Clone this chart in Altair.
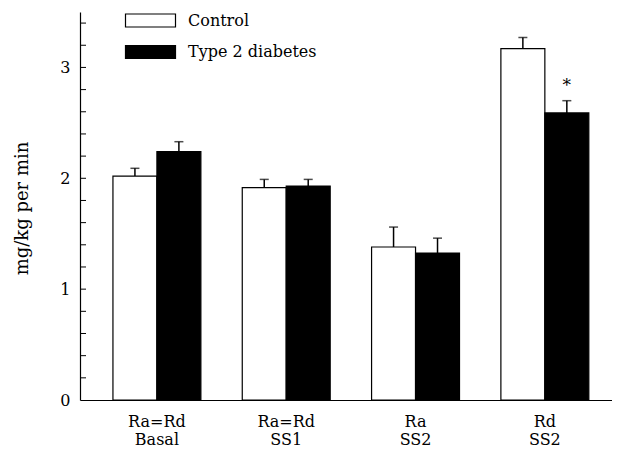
import altair as alt
import pandas as pd

groups = ["Ra=Rd\nBasal", "Ra=Rd\nSS1", "Ra\nSS2", "Rd\nSS2"]
series = ["Control", "Type 2 diabetes"]
control_mean = [2.02, 1.915, 1.38, 3.17]
control_sem = [0.07, 0.075, 0.18, 0.10]
diabetes_mean = [2.24, 1.93, 1.325, 2.59]
diabetes_sem = [0.09, 0.06, 0.135, 0.11]
minor_ticks = [0.2, 0.4, 0.6, 0.8, 1.0, 1.2, 1.4, 1.6, 1.8, 2.0, 2.2, 2.4, 2.6,
               2.8, 3.0, 3.2, 3.4]
star_group = "Rd\nSS2"
star_series = "Type 2 diabetes"

rows = []
for i, g in enumerate(groups):
    rows.append({"group": g, "series": series[0], "value": control_mean[i],
                 "top": control_mean[i] + control_sem[i]})
    rows.append({"group": g, "series": series[1], "value": diabetes_mean[i],
                 "top": diabetes_mean[i] + diabetes_sem[i]})
df = pd.DataFrame(rows)
star_df = df[(df.group == star_group) & (df.series == star_series)].assign(label="*")
ticks_df = pd.DataFrame({"t": minor_ticks})

FONT = "DejaVu Serif"

xscale = alt.Scale(domain=groups, paddingInner=0.32, paddingOuter=0.217, align=0.587)
yscale = alt.Scale(domain=[0, 3.5], nice=False)
offscale = alt.Scale(domain=series, paddingInner=0, paddingOuter=0)

x = alt.X("group:N", scale=xscale, sort=groups,
          axis=alt.Axis(title=None, labelAngle=0, ticks=False,
                        labelExpr="split(datum.label, '\\n')",
                        labelLineHeight=18, labelPadding=13,
                        labelFont=FONT, labelFontSize=16, labelColor="black",
                        domainColor="black", domainWidth=1.2))
xo = alt.XOffset("series:N", scale=offscale, sort=series)

bars = alt.Chart(df).mark_bar(stroke="black", strokeWidth=1.2).encode(
    x=x, xOffset=xo,
    y=alt.Y("value:Q", scale=yscale,
            axis=alt.Axis(title="mg/kg per min", values=[0, 1, 2, 3], format="d",
                          grid=False,
                          ticks=False, labelPadding=10, labelFont=FONT,
                          labelFontSize=16, labelColor="black",
                          domainColor="black", domainWidth=1.2,
                          titleFont=FONT, titleFontSize=18, titleFontWeight="normal",
                          titleColor="black", titleX=-58, titleY=196,
                          titleAngle=270, titleAlign="center", titleBaseline="middle")),
    fill=alt.Fill("series:N", scale=alt.Scale(domain=series, range=["white", "black"]),
                  legend=alt.Legend(title=None, orient="none", legendX=57, legendY=-5,
                                    symbolType="M-2,-0.52L2,-0.52L2,0.52L-2,0.52Z",
                                    symbolSize=625, symbolStrokeColor="black",
                                    symbolStrokeWidth=1.2, labelOffset=24,
                                    rowPadding=8.5, labelFont=FONT, labelFontSize=16,
                                    labelColor="black")),
)

err = alt.Chart(df).mark_rule(color="black", strokeWidth=1.5).encode(
    x=alt.X("group:N", scale=xscale, sort=groups), xOffset=xo,
    y=alt.Y("value:Q", scale=yscale), y2="top:Q")

caps = alt.Chart(df).mark_tick(color="black", thickness=1.5, size=9,
                               orient="horizontal").encode(
    x=alt.X("group:N", scale=xscale, sort=groups), xOffset=xo,
    y=alt.Y("top:Q", scale=yscale))

star = alt.Chart(star_df).mark_text(font=FONT, fontSize=17, baseline="alphabetic",
                                    dy=-10, color="black").encode(
    x=alt.X("group:N", scale=xscale, sort=groups), xOffset=xo,
    y=alt.Y("top:Q", scale=yscale), text="label:N")

yticks = alt.Chart(ticks_df).mark_rule(color="black", strokeWidth=1).encode(
    x=alt.value(0), x2=alt.value(6), y=alt.Y("t:Q", scale=yscale))

chart = alt.layer(bars, err, caps, star, yticks).properties(
    width=532, height=388,
    autosize=alt.AutoSizeParams(type="none"),
    padding={"left": 72, "top": 4, "right": 0, "bottom": 50},
).configure_view(stroke=None)

chart.save("out.html", embed_options={"renderer": "svg", "actions": False})
